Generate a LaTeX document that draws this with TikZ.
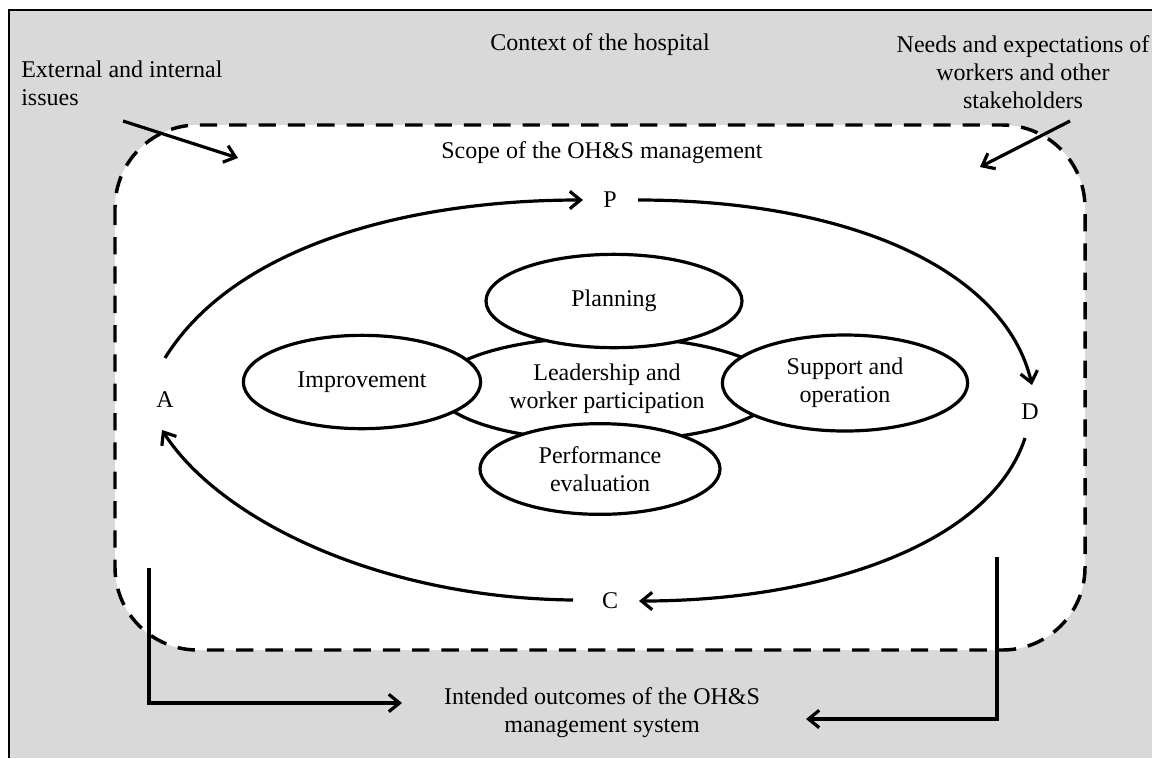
\documentclass[tikz,border=0pt]{standalone}
\usepackage{fontspec}
\setmainfont{Liberation Serif}
\usetikzlibrary{arrows.meta,shapes.geometric}
\definecolor{bggray}{HTML}{D9D9D9}
\tikzset{
  txt/.style={inner sep=0pt, align=center, font=\fontsize{18}{21}\selectfont},
  oval/.style={ellipse, draw, line width=2.4pt, fill=white, inner sep=0pt, align=center, font=\fontsize{18}{21}\selectfont},
  cyc/.style={line width=2.4pt, -{Straight Barb[length=8pt,width=13pt]}},
  arr/.style={line width=2.4pt, -{Straight Barb[length=8pt,width=13pt]}},
  scopeline/.style={line width=2.6pt, dash pattern=on 13pt off 9pt, fill=white}
}
\begin{document}
\begin{tikzpicture}[x=0.75pt,y=-0.75pt]
\useasboundingbox (0,0) rectangle (1152,758);
% background frame
\fill[bggray] (9,10) rectangle (1152,758);
\draw[line width=1.8pt] (9,758) -- (9,10) -- (1152,10);
% scope
\draw[scopeline, rounded corners=62pt] (115,125) rectangle (1085,650);

% outside texts
\node[txt, align=left, anchor=west] (ext) at (21,83) {External and internal\\issues};
\node[txt] (ctx) at (600,45) {Context of the hospital};
\node[txt] (needs) at (1023,72) {Needs and expectations of\\workers and other\\stakeholders};
\node[txt] (scope) at (602,153) {Scope of the OH\&S management};
\node[txt] (out) at (602,713) {Intended outcomes of the OH\&S\\management system};

% PDCA letters
\node[txt] (P) at (610,200) {P};
\node[txt] (D) at (1030,412) {D};
\node[txt] (C) at (610,601) {C};
\node[txt] (A) at (165,400) {A};

% ellipses
\node[oval, minimum width=255pt, minimum height=78pt] (lead) at (607,389) {Leadership and\\worker participation};
\node[oval, minimum width=192pt, minimum height=70pt] (plan) at (614,301) {Planning};
\node[oval, minimum width=178pt, minimum height=70pt] (impr) at (362,382) {Improvement};
\node[oval, minimum width=184pt, minimum height=72pt] (supp) at (845,383) {Support and\\operation};
\node[oval, minimum width=180pt, minimum height=68pt] (perf) at (600,469) {Performance\\evaluation};

% coordinates for cycle arcs
\coordinate (a1) at (165,358);
\coordinate (p0) at (583,200);
\coordinate (p1) at (638,200);
\coordinate (d0) at (1032,385);
\coordinate (d1) at (1025,438);
\coordinate (c0) at (639,601);
\coordinate (c1) at (573,600);
\coordinate (a0) at (162,430);

\draw[cyc] (a1) .. controls (235,245) and (410,200) .. (p0);
\draw[cyc] (p1) .. controls (850,200) and (1005,270) .. (d0);
\draw[cyc] (d1) .. controls (990,545) and (820,601) .. (c0);
\draw[cyc] (c1) .. controls (380,598) and (220,520) .. (a0);

% input arrows
\coordinate (e0) at (123,121);
\coordinate (e1) at (238,158);
\coordinate (n0) at (1070,121);
\coordinate (n1) at (980,167);
\draw[arr] (e0) -- (e1);
\draw[arr] (n0) -- (n1);

% output arrows
\coordinate (l0) at (149,568);
\coordinate (l1) at (402,703);
\coordinate (r0) at (997,557);
\coordinate (r1) at (806,719);
\draw[arr] (l0) |- (l1);
\draw[arr] (r0) |- (r1);
\end{tikzpicture}
\end{document}
